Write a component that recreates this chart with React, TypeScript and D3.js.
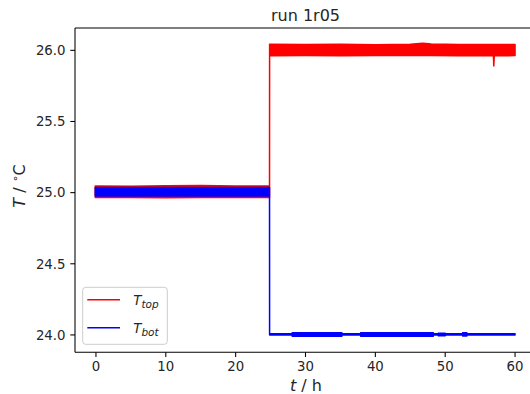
import React from "react";
import * as d3 from "d3";

// T_top envelope (time in h, band low/high in °C)
const topT = [-0.1, 5, 10, 15, 20, 24.85, 24.86, 30, 35, 40, 45, 46.8, 48, 52, 56.9, 56.96, 57.02, 60];
const topLo = [24.965, 24.966, 24.964, 24.966, 24.965, 24.965, 25.962, 25.963, 25.962, 25.964, 25.963, 25.965, 25.963, 25.962, 25.962, 25.89, 25.962, 25.963];
const topHi = [25.046, 25.045, 25.048, 25.05, 25.046, 25.046, 26.042, 26.041, 26.042, 26.04, 26.043, 26.05, 26.044, 26.041, 26.041, 26.041, 26.041, 26.041];

// T_bot envelope
const botT = [-0.1, 5, 10, 15, 20, 24.85, 24.86, 28.1, 28.1, 35.2, 35.2, 37.9, 37.9, 48.3, 48.3, 49, 49, 50, 50, 52.5, 52.5, 53.1, 53.1, 60];
const botLo = [24.977, 24.976, 24.977, 24.976, 24.977, 24.977, 24.0, 24.0, 23.991, 23.991, 24.0, 24.0, 23.991, 23.991, 24.0, 24.0, 23.995, 23.995, 24.0, 24.0, 23.992, 23.992, 24.0, 24.0];
const botHi = [25.036, 25.037, 25.036, 25.037, 25.036, 25.036, 24.008, 24.008, 24.016, 24.016, 24.008, 24.008, 24.016, 24.016, 24.008, 24.008, 24.012, 24.012, 24.008, 24.008, 24.015, 24.015, 24.008, 24.008];

const xTicks = [0, 10, 20, 30, 40, 50, 60];
const yTicks = [24.0, 24.5, 25.0, 25.5, 26.0];

const W = 530;
const H = 394;
const left = 75;
const right = 536;
const top = 28;
const bottom = 352.3;

export default function App() {
  const x = d3.scaleLinear().domain([-3, 63]).range([left, right]);
  const y = d3.scaleLinear().domain([23.878, 26.157]).range([bottom, top]);

  const mk = (T: number[], lo: number[], hi: number[]) =>
    d3
      .area<number>()
      .x((i) => x(T[i]))
      .y0((i) => y(lo[i]))
      .y1((i) => y(hi[i]))(d3.range(T.length)) || "";

  const topPath = mk(topT, topLo, topHi);
  const botPath = mk(botT, botLo, botHi);
  const font = "DejaVu Sans, sans-serif";

  return (
    <svg width={W} height={H} style={{ position: "absolute", left: 0, top: 0 }} fontFamily={font}>
      <rect width={W} height={H} fill="white" />
      <path d={topPath} fill="red" stroke="red" strokeWidth={1.5} strokeLinejoin="round" />
      <path d={botPath} fill="blue" stroke="blue" strokeWidth={1.5} strokeLinejoin="round" />
      {/* spines */}
      <g stroke="black" strokeWidth={1.07} fill="none">
        <line x1={left} x2={left} y1={top} y2={bottom} />
        <line x1={left} x2={right} y1={bottom} y2={bottom} />
        <line x1={left} x2={right} y1={top} y2={top} />
        <line x1={right} x2={right} y1={top} y2={bottom} />
      </g>
      {xTicks.map((t) => (
        <g key={"x" + t}>
          <line x1={x(t)} x2={x(t)} y1={bottom} y2={bottom + 4.7} stroke="black" strokeWidth={1.07} />
          <text x={x(t)} y={bottom + 18.3} fontSize={13.3} textAnchor="middle" fill="#262626">
            {t}
          </text>
        </g>
      ))}
      {yTicks.map((t) => (
        <g key={"y" + t}>
          <line x1={left} x2={left - 4.7} y1={y(t)} y2={y(t)} stroke="black" strokeWidth={1.07} />
          <text x={left - 9.5} y={y(t)} dy="0.36em" fontSize={13.3} textAnchor="end" fill="#262626">
            {t.toFixed(1)}
          </text>
        </g>
      ))}
      <text x={(left + right) / 2} y={21} fontSize={16} textAnchor="middle" fill="#262626">
        run 1r05
      </text>
      <text x={306} y={391} fontSize={16} textAnchor="middle" fill="#262626">
        <tspan fontStyle="italic">t</tspan> / h
      </text>
      <text transform="translate(24.5,186) rotate(-90)" fontSize={16} textAnchor="middle" fill="#262626">
        <tspan fontStyle="italic">T</tspan> / <tspan fontSize={11} dy={-6}>∘</tspan>
        <tspan dy={6}>C</tspan>
      </text>
      {/* legend */}
      <g>
        <rect x={82.7} y={287.3} width={84.6} height={57} rx={3} fill="white" fillOpacity={0.8} stroke="#cccccc" strokeWidth={1} />
        <line x1={87.3} x2={120} y1={299.7} y2={299.7} stroke="red" strokeWidth={1.5} />
        <line x1={87.3} x2={120} y1={327.7} y2={327.7} stroke="blue" strokeWidth={1.5} />
        <text x={133.3} y={304.5} fontSize={13.3} fill="#262626">
          <tspan fontStyle="italic">T</tspan>
          <tspan fontStyle="italic" fontSize={10.5} dy={3}>top</tspan>
        </text>
        <text x={133.3} y={332.5} fontSize={13.3} fill="#262626">
          <tspan fontStyle="italic">T</tspan>
          <tspan fontStyle="italic" fontSize={10.5} dy={3}>bot</tspan>
        </text>
      </g>
    </svg>
  );
}
